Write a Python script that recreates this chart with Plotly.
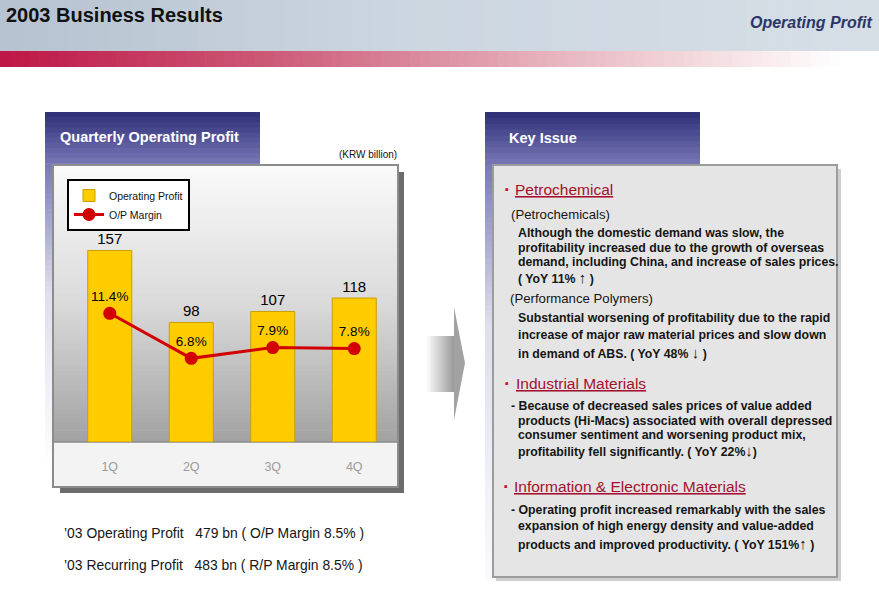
import plotly.graph_objects as go

W, H = 879, 589

# ---- data ----
quarters = ["1Q", "2Q", "3Q", "4Q"]
op_profit = [157, 98, 107, 118]
op_margin = [11.4, 6.8, 7.9, 7.8]

FONT = "Liberation Sans, Arial, sans-serif"


def X(px):
    return px / W


def Y(py):
    return 1 - py / H


shapes = []


def rect(x0, y0, x1, y1, fill, line=None, lw=0):
    shapes.append(dict(type="rect", xref="paper", yref="paper",
                       x0=X(x0), x1=X(x1), y0=Y(y1), y1=Y(y0),
                       fillcolor=fill,
                       line=dict(width=lw, color=line or "rgba(0,0,0,0)"),
                       layer="below"))


def lerp(c0, c1, t):
    return tuple(round(a + (b - a) * t) for a, b in zip(c0, c1))


def rgb(c):
    return f"rgb({c[0]},{c[1]},{c[2]})"


def multi(stops, t):
    for (t0, c0), (t1, c1) in zip(stops, stops[1:]):
        if t <= t1:
            return lerp(c0, c1, (t - t0) / (t1 - t0) if t1 > t0 else 0)
    return stops[-1][1]


def vgrad(x0, y0, x1, y1, stops, n):
    h = (y1 - y0) / n
    for i in range(n):
        t = (i + 0.5) / n
        rect(x0, y0 + i * h, x1, min(y1, y0 + (i + 1) * h + 0.7), rgb(multi(stops, t)))


def hgrad(x0, y0, x1, y1, stops, n):
    w = (x1 - x0) / n
    for i in range(n):
        t = (i + 0.5) / n
        rect(x0 + i * w, y0, min(x1, x0 + (i + 1) * w + 0.7), y1, rgb(multi(stops, t)))


# header band
hgrad(0, 0, 879, 51, [(0, (182, 194, 208)), (0.45, (204, 214, 224)), (1, (214, 222, 230))], 40)
# red band
hgrad(0, 51, 879, 67, [(0, (190, 22, 70)), (0.3, (204, 88, 118)), (0.62, (230, 178, 188)),
                       (0.96, (255, 255, 255)), (1, (255, 255, 255))], 90)

navy = [(0, (46, 46, 120)), (0.15, (122, 122, 184)), (0.5, (222, 222, 236)), (1, (255, 255, 255))]
# left title box (extends behind panel)
vgrad(45, 112, 260, 470, navy, 70)
# right title box
vgrad(485, 112, 700, 580, [(0, (46, 46, 120)), (0.115, (122, 122, 184)), (0.45, (222, 222, 236)),
                           (1, (250, 250, 252))], 80)

# chart panel
rect(60, 172, 404, 493, "#6c6c6c")
rect(53, 165, 398, 487, "#f3f3f3")
vgrad(54, 166, 397, 442, [(0, (250, 250, 250)), (0.5, (218, 218, 218)), (1, (162, 162, 162))], 70)
shapes.append(dict(type="line", xref="paper", yref="paper", x0=X(54), x1=X(397), y0=Y(442), y1=Y(442),
                   line=dict(color="#8a8a8a", width=1.5), layer="below"))
rect(53, 165, 398, 487, "rgba(0,0,0,0)", line="#8c8c8c", lw=2)

# key issue panel
rect(496, 169, 841, 581, "#cfcfcf")
rect(493, 165, 837, 577, "#e5e5e5", line="#9c9c9c", lw=2)

# arrow
hgrad(426, 336, 455, 392, [(0, (255, 255, 255)), (1, (150, 150, 150))], 24)
shapes.append(dict(type="path", xref="paper", yref="paper",
                   path=f"M {X(454)} {Y(307)} L {X(465)} {Y(363)} L {X(454)} {Y(420)} Z",
                   fillcolor="#a2a2a2", line=dict(width=0), layer="below"))

# ---- traces ----
bar = go.Bar(x=quarters, y=op_profit, name="Operating Profit",
             marker=dict(color="#FFCC00", line=dict(color="#C99E00", width=1)),
             width=0.54, text=op_profit, textposition="outside",
             textfont=dict(size=15, color="black", family=FONT), cliponaxis=False)
line = go.Scatter(x=quarters, y=op_margin, yaxis="y2", name="O/P Margin",
                  mode="lines+markers+text",
                  line=dict(color="#D20000", width=3),
                  marker=dict(size=13, color="#D20000"),
                  text=[f"{v:.1f}%" for v in op_margin], textposition="top center",
                  textfont=dict(size=13.5, color="black", family=FONT), cliponaxis=False)

fig = go.Figure([bar, line])

ann = []


def txt(s, x, y, size=12.3, color="#151515", anchor="left", bold=False):
    if bold:
        s = f"<b>{s}</b>"
    ann.append(dict(text=s, x=X(x), y=Y(y), xref="paper", yref="paper", showarrow=False,
                    xanchor=anchor, yanchor="middle", font=dict(size=size, color=color, family=FONT)))


def body(s, x, y):
    txt(s, x, y, size=12.3, bold=True)


UP = "<span style='font-size:15px'>\u2191</span>"
DN = "<span style='font-size:15px'>\u2193</span>"

txt("<b>2003 Business Results</b>", 4, 15, size=20, color="#111111")
txt("<b><i>Operating Profit</i></b>", 874, 22, size=16, color="#2b3668", anchor="right")
txt("<b>Quarterly Operating Profit</b>", 58, 137, size=14.5, color="white")
txt("<b>Key Issue</b>", 507, 138, size=14.5, color="white")
txt("(KRW billion)", 399, 155, size=10, color="#111111", anchor="right")

txt("\u201903 Operating Profit\u00a0\u00a0\u00a0479 bn ( O/P Margin 8.5% )", 62, 533, size=13.9)
txt("\u201903 Recurring Profit\u00a0\u00a0\u00a0483 bn ( R/P Margin 8.5% )", 62, 565, size=13.9)

RED = "#A4102E"
txt("\u25aa", 503, 189, size=11, color="#C8102E")
txt("<u>Petrochemical</u>", 513, 189, size=15.5, color=RED)
txt("(Petrochemicals)", 509, 214, size=13.2)
body("Although the domestic demand was slow, the", 516, 233)
body("profitability increased due to the growth of overseas", 516, 248)
body("demand, including China, and increase of sales prices.", 516, 262)
body(f"( YoY 11% {UP} )", 516, 277)
txt("(Performance Polymers)", 508, 298, size=13.2)
body("Substantial worsening of profitability due to the rapid", 516, 318)
body("increase of major raw material prices and slow down", 516, 335)
body(f"in demand of ABS. ( YoY 48% {DN} )", 516, 352)

txt("\u25aa", 503, 383, size=11, color="#C8102E")
txt("<u>Industrial Materials</u>", 514, 383, size=15.5, color=RED)
body("- Because of decreased sales prices of value added", 509, 406)
body("products (Hi-Macs) associated with overall depressed", 516, 421)
body("consumer sentiment and worsening product mix,", 516, 435)
body(f"profitability fell significantly. ( YoY 22%{DN})", 516, 450)

txt("\u25aa", 502, 486, size=11, color="#C8102E")
txt("<u>Information & Electronic Materials</u>", 512, 486, size=15.5, color=RED)
body("- Operating profit increased remarkably with the sales", 509, 510)
body("expansion of high energy density and value-added", 516, 526)
body(f"products and improved productivity. ( YoY 151%{UP} )", 516, 543)

fig.update_layout(
    width=W, height=H, autosize=False,
    margin=dict(l=0, r=0, t=0, b=0),
    paper_bgcolor="white", plot_bgcolor="rgba(0,0,0,0)",
    font=dict(family=FONT, color="#111111"),
    shapes=shapes, annotations=ann,
    xaxis=dict(domain=[X(69), X(395)], range=[-0.5, 3.5], type="category",
               showgrid=False, zeroline=False, showline=False,
               ticks="outside", ticklen=13, tickcolor="rgba(0,0,0,0)",
               tickfont=dict(size=12.5, color="#9c9c9c", family=FONT), fixedrange=True),
    yaxis=dict(domain=[Y(442), Y(165)], range=[0, 277 / 1.22], visible=False, fixedrange=True),
    yaxis2=dict(overlaying="y", range=[-17 / 9.8, (425 - 165) / 9.8], visible=False, fixedrange=True),
    showlegend=True,
    legend=dict(x=X(67), y=Y(179), xanchor="left", yanchor="top",
                bgcolor="white", bordercolor="black", borderwidth=2,
                font=dict(size=10.5, family=FONT, color="#111111"),
                tracegroupgap=0, traceorder="normal"),
    bargap=0.46,
)

fig.write_html("out.html", config={"displayModeBar": False},
               post_script="document.body.style.margin='0px';document.body.style.overflow='hidden';")
